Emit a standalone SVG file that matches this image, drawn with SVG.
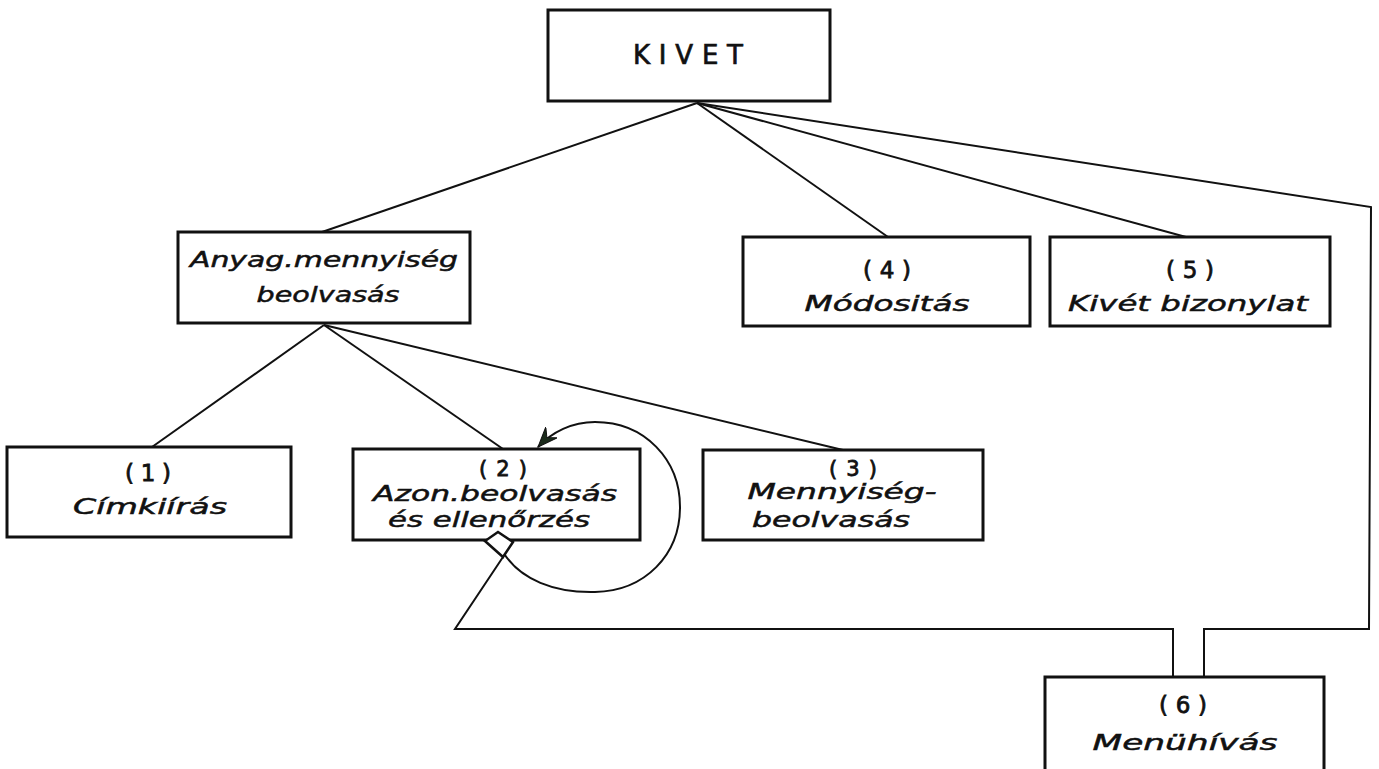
<svg xmlns="http://www.w3.org/2000/svg" width="1379" height="769" viewBox="0 0 1379 769">
<style>
.box{fill:#fff;stroke:#111;stroke-width:3}
.ln{fill:none;stroke:#111;stroke-width:2;stroke-linejoin:miter}
.t{font-family:"DejaVu Sans","Liberation Sans",sans-serif;font-size:22px;fill:#111;stroke:#111;stroke-width:0.5;text-anchor:middle}
.i{font-style:italic}
.n{font-size:23px;stroke-width:0.8}
.k{font-size:26px;stroke-width:0.7}
</style>
<defs>
<marker id="arr" markerWidth="22" markerHeight="16" refX="20" refY="8" orient="auto" markerUnits="userSpaceOnUse">
<path d="M0,0 L20,8 L0,16 L7,8 Z" fill="#1a2a1a" stroke="#111" stroke-width="1"/>
</marker>
</defs>
<rect width="1379" height="769" fill="#fff"/>
<g id="connectors">
<polyline class="ln" points="697,103 322,232"/>
<polyline class="ln" points="697,103 888,237"/>
<polyline class="ln" points="697,103 1186,237"/>
<polyline class="ln" points="697,103 1371,207 1369,629 1204,629 1204,677"/>
<polyline class="ln" points="324,325 152,447"/>
<polyline class="ln" points="324,325 503,449"/>
<polyline class="ln" points="324,325 843,450"/>
<polyline class="ln" points="503,557 455,629 1173,629 1173,677"/>
<path class="ln" d="M503,552 C520,580 555,593 595,592 C645,591 680,555 680,507 C680,460 645,422 595,422 C572,422 552,432 538,447" marker-end="url(#arr)"/>
</g>
<g id="n-kivet">
<rect class="box" x="548" y="10" width="282" height="91"/>
<text class="t k" x="688" y="64" textLength="110" lengthAdjust="spacing">KIVET</text>
</g>
<g id="n-anyag">
<rect class="box" x="178" y="232" width="292" height="91"/>
<text class="t i" x="324" y="267" textLength="268" lengthAdjust="spacingAndGlyphs">Anyag.mennyiség</text>
<text class="t i" x="328" y="302" textLength="143" lengthAdjust="spacingAndGlyphs">beolvasás</text>
</g>
<g id="n-4">
<rect class="box" x="743" y="237" width="287" height="89"/>
<text class="t n" x="887" y="278" textLength="48" lengthAdjust="spacing">(4)</text>
<text class="t i" x="887" y="311" textLength="165" lengthAdjust="spacingAndGlyphs">Módositás</text>
</g>
<g id="n-5">
<rect class="box" x="1050" y="237" width="280" height="89"/>
<text class="t n" x="1190" y="278" textLength="48" lengthAdjust="spacing">(5)</text>
<text class="t i" x="1188" y="311" textLength="240" lengthAdjust="spacingAndGlyphs">Kivét bizonylat</text>
</g>
<g id="n-1">
<rect class="box" x="7" y="447" width="284" height="90"/>
<text class="t n" x="148" y="481" textLength="46" lengthAdjust="spacing">(1)</text>
<text class="t i" x="150" y="514" textLength="154" lengthAdjust="spacingAndGlyphs">Címkiírás</text>
</g>
<g id="n-2">
<rect class="box" x="353" y="449" width="287" height="91"/>
<text class="t n" x="503" y="476" style="font-size:21px" textLength="48" lengthAdjust="spacing">(2)</text>
<text class="t i" x="495" y="501" textLength="244" lengthAdjust="spacingAndGlyphs">Azon.beolvasás</text>
<text class="t i" x="489" y="527" textLength="202" lengthAdjust="spacingAndGlyphs">és ellenőrzés</text>
<polygon points="498,532 513,542 503,557 485,541" fill="#fff" stroke="#111" stroke-width="2.5"/>
</g>
<g id="n-3">
<rect class="box" x="703" y="450" width="280" height="90"/>
<text class="t n" x="853" y="476" style="font-size:21px" textLength="48" lengthAdjust="spacing">(3)</text>
<text class="t i" x="842" y="499" textLength="189" lengthAdjust="spacingAndGlyphs">Mennyiség-</text>
<text class="t i" x="831" y="527" textLength="158" lengthAdjust="spacingAndGlyphs">beolvasás</text>
</g>
<g id="n-6">
<rect class="box" x="1045" y="677" width="279" height="110"/>
<text class="t n" x="1183" y="713" textLength="48" lengthAdjust="spacing">(6)</text>
<text class="t i" x="1185" y="750" textLength="185" lengthAdjust="spacingAndGlyphs">Menühívás</text>
</g>
</svg>
